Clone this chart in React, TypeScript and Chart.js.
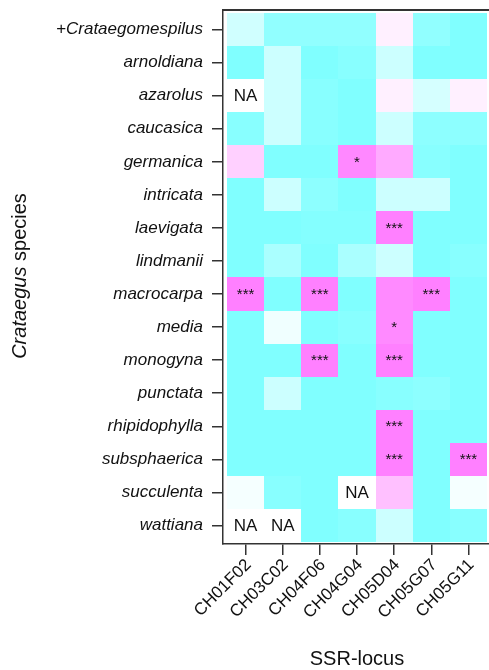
import { useEffect, useRef } from "react";
import { Chart, registerables } from "chart.js";

Chart.register(...registerables);

// Categories
const species = [
  "+Crataegomespilus",
  "arnoldiana",
  "azarolus",
  "caucasica",
  "germanica",
  "intricata",
  "laevigata",
  "lindmanii",
  "macrocarpa",
  "media",
  "monogyna",
  "punctata",
  "rhipidophylla",
  "subsphaerica",
  "succulenta",
  "wattiana",
];
const loci = ["CH01F02", "CH03C02", "CH04F06", "CH04G04", "CH05D04", "CH05G07", "CH05G11"];

// Deviation score per locus (species order as above); -1 = cyan, +1 = magenta, null = NA
const CH01F02 = [-0.37, -1, null, -0.94, 0.37, -1, -1, -1, 1, -1, -1, -1, -1, -1, -0.08, null];
const CH03C02 = [-0.87, -0.4, -0.4, -0.4, -1, -0.4, -1, -0.67, -1, -0.12, -1, -0.4, -1, -1, -0.94, null];
const CH04F06 = [-0.87, -1, -0.94, -0.94, -1, -0.9, -0.97, -1, 1, -1, 1, -1, -1, -1, -1, -1];
const CH04G04 = [-0.87, -0.94, -1, -1, 0.94, -1, -0.97, -0.67, -1, -0.94, -1, -1, -1, -1, null, -0.94];
const CH05D04 = [0.12, -0.4, 0.12, -0.4, 0.67, -0.4, 1, -0.4, 0.92, 0.92, 1, -0.94, 1, 1, 0.5, -0.4];
const CH05G07 = [-0.87, -1, -0.33, -0.9, -0.94, -0.4, -1, -1, 1, -1, -1, -0.9, -1, -1, -1, -1];
const CH05G11 = [-1, -1, 0.12, -0.9, -1, -1, -1, -0.94, -1, -1, -1, -1, -1, 1, -0.08, -0.94];

// Significance marks per locus (species order as above)
const sigCH01F02 = ["", "", "", "", "", "", "", "", "***", "", "", "", "", "", "", ""];
const sigCH03C02 = ["", "", "", "", "", "", "", "", "", "", "", "", "", "", "", ""];
const sigCH04F06 = ["", "", "", "", "", "", "", "", "***", "", "***", "", "", "", "", ""];
const sigCH04G04 = ["", "", "", "", "*", "", "", "", "", "", "", "", "", "", "", ""];
const sigCH05D04 = ["", "", "", "", "", "", "***", "", "", "*", "***", "", "***", "***", "", ""];
const sigCH05G07 = ["", "", "", "", "", "", "", "", "***", "", "", "", "", "", "", ""];
const sigCH05G11 = ["", "", "", "", "", "", "", "", "", "", "", "", "", "***", "", ""];

const values = [CH01F02, CH03C02, CH04F06, CH04G04, CH05D04, CH05G07, CH05G11];
const marks = [sigCH01F02, sigCH03C02, sigCH04F06, sigCH04G04, sigCH05D04, sigCH05G07, sigCH05G11];

const FONT = "'Liberation Sans', Arial, Helvetica, sans-serif";

function colorFor(v: number | null): string {
  if (v === null) return "#ffffff";
  const t = Math.min(1, Math.abs(v));
  const c = Math.round(255 - 127 * t);
  return v < 0 ? `rgb(${c},255,255)` : `rgb(255,${c},255)`;
}

const heatPlugin = {
  id: "heat",
  beforeDatasetsDraw(chart: any) {
    const { ctx, scales } = chart;
    const xs = scales.x;
    const ys = scales.y;
    ctx.save();
    values.forEach((col, i) => {
      col.forEach((v, j) => {
        const x0 = Math.round(xs.getPixelForValue(i - 0.5));
        const x1 = Math.round(xs.getPixelForValue(i + 0.5));
        const y0 = Math.round(ys.getPixelForValue(j - 0.5));
        const y1 = Math.round(ys.getPixelForValue(j + 0.5));
        ctx.fillStyle = colorFor(v);
        ctx.fillRect(Math.min(x0, x1), Math.min(y0, y1), Math.abs(x1 - x0), Math.abs(y1 - y0));
      });
    });
    ctx.restore();
  },
  afterDatasetsDraw(chart: any) {
    const { ctx, scales } = chart;
    const xs = scales.x;
    const ys = scales.y;
    ctx.save();
    ctx.textAlign = "center";
    ctx.textBaseline = "middle";
    ctx.fillStyle = "#111";
    values.forEach((col, i) => {
      col.forEach((v, j) => {
        const cx = xs.getPixelForValue(i);
        const cy = ys.getPixelForValue(j);
        if (v === null) {
          ctx.font = `17px ${FONT}`;
          ctx.fillText("NA", cx, cy + 1);
        } else if (marks[i][j]) {
          ctx.font = `15px ${FONT}`;
          ctx.fillText(marks[i][j], cx, cy + 1);
        }
      });
    });
    ctx.restore();
  },
  afterDraw(chart: any) {
    const { ctx, chartArea } = chart;
    ctx.save();
    // top frame line of the plot box
    ctx.fillStyle = "#333";
    ctx.fillRect(chartArea.left - 1, chartArea.top - 1, 489 - chartArea.left + 1, 2);
    ctx.fillStyle = "#111";
    ctx.textBaseline = "middle";
    // x title
    ctx.textAlign = "center";
    ctx.font = `20px ${FONT}`;
    ctx.fillText("SSR-locus", 357, 659);
    // y title (mixed italic / regular)
    ctx.translate(20, 276);
    ctx.rotate(-Math.PI / 2);
    const part1 = "Crataegus";
    const part2 = " species";
    ctx.font = `italic 20px ${FONT}`;
    const w1 = ctx.measureText(part1).width;
    ctx.font = `20px ${FONT}`;
    const w2 = ctx.measureText(part2).width;
    const start = -(w1 + w2) / 2;
    ctx.textAlign = "left";
    ctx.font = `italic 20px ${FONT}`;
    ctx.fillText(part1, start, 0);
    ctx.font = `20px ${FONT}`;
    ctx.fillText(part2, start + w1, 0);
    ctx.restore();
  },
};

export default function App() {
  const ref = useRef<HTMLCanvasElement | null>(null);

  useEffect(() => {
    if (!ref.current) return;
    const points: { x: number; y: number }[] = [];
    values.forEach((col, i) =>
      col.forEach((v, j) => {
        if (v !== null) points.push({ x: i, y: j });
      })
    );
    const chart = new Chart(ref.current, {
      type: "scatter",
      data: {
        datasets: [
          {
            data: points,
            pointRadius: 0,
            pointHoverRadius: 0,
            backgroundColor: "rgba(0,0,0,0)",
          },
        ],
      },
      options: {
        animation: false,
        responsive: false,
        devicePixelRatio: 1,
        layout: { padding: { top: 10, right: 0, bottom: 0, left: 0 } },
        plugins: { legend: { display: false }, tooltip: { enabled: false }, title: { display: false } },
        scales: {
          x: {
            type: "linear",
            position: "bottom",
            min: -0.608,
            max: 6.554,
            afterFit: (scale: any) => {
              scale.height = 126;
              scale.paddingLeft = 0;
              scale.paddingRight = 0;
              scale.paddingTop = 0;
              scale.paddingBottom = 0;
            },
            afterBuildTicks: (scale: any) => {
              scale.ticks = loci.map((_, i) => ({ value: i }));
            },
            ticks: {
              autoSkip: false,
              minRotation: 45,
              maxRotation: 45,
              padding: 0,
              labelOffset: 3,
              color: "#111",
              font: { family: FONT, size: 17 },
              callback: (v: any) => loci[Math.round(Number(v))] ?? "",
            },
            grid: { drawOnChartArea: false, drawTicks: true, tickLength: 11, color: "#333", lineWidth: 1.5 },
            border: { display: true, color: "#333", width: 1.5 },
          },
          y: {
            type: "linear",
            position: "left",
            reverse: true,
            min: -0.59,
            max: 15.56,
            afterFit: (scale: any) => {
              scale.width = 223;
              scale.paddingTop = 0;
              scale.paddingBottom = 0;
              scale.paddingLeft = 0;
              scale.paddingRight = 0;
            },
            afterBuildTicks: (scale: any) => {
              scale.ticks = species.map((_, i) => ({ value: i }));
            },
            ticks: {
              autoSkip: false,
              padding: 9,
              color: "#111",
              font: { family: FONT, size: 17, style: "italic" },
              callback: (v: any) => species[Math.round(Number(v))] ?? "",
            },
            grid: { drawOnChartArea: false, drawTicks: true, tickLength: 11, color: "#333", lineWidth: 1.5 },
            border: { display: true, color: "#333", width: 1.5 },
          },
        },
      },
      plugins: [heatPlugin],
    });
    return () => chart.destroy();
  }, []);

  return (
    <div style={{ position: "absolute", left: 0, top: 0, width: 489, height: 670, background: "#fff" }}>
      <canvas ref={ref} width={489} height={670} style={{ display: "block" }} />
    </div>
  );
}
